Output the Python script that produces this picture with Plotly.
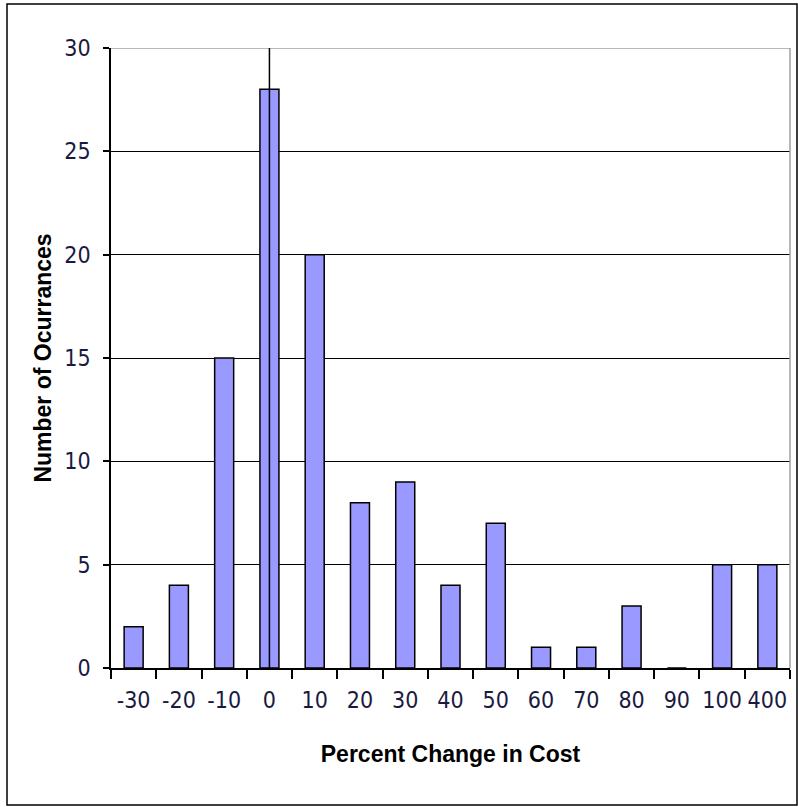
import plotly.graph_objects as go

categories = ["-30", "-20", "-10", "0", "10", "20", "30", "40", "50", "60", "70", "80", "90", "100", "400"]
counts = [2, 4, 15, 28, 20, 8, 9, 4, 7, 1, 1, 3, 0, 5, 5]
y_ticks = [0, 5, 10, 15, 20, 25, 30]

FONT = "DejaVu Sans Condensed, Liberation Sans Narrow, Arial Narrow, sans-serif"
TFONT = "Liberation Sans, Arial, sans-serif"

fig = go.Figure()
fig.add_trace(go.Bar(
    x=categories, y=counts,
    marker=dict(color="#9999FF", line=dict(color="black", width=1.5)),
    width=0.42,
))

L, R, T, B = 111, 8, 48, 139
W, H = 798, 807
pw, ph = W - L - R, H - T - B

def px_x(p):
    return (p - L) / pw

def px_y(p):
    return (H - B - p) / ph

shapes = [
    dict(type="rect", xref="paper", yref="paper",
         x0=px_x(7), x1=px_x(797), y0=px_y(805), y1=px_y(4),
         line=dict(color="black", width=1.5), layer="below"),
    dict(type="line", xref="paper", yref="y", x0=0, x1=1, y0=30, y1=30,
         line=dict(color="#A0A0A0", width=1.5)),
    dict(type="line", xref="paper", yref="paper", x0=1, x1=1, y0=0, y1=1,
         line=dict(color="#A0A0A0", width=1.5)),
    dict(type="line", xref="x", yref="y", x0=categories.index("0"), x1=categories.index("0"),
         y0=0, y1=30, line=dict(color="black", width=1.5)),
]

fig.update_layout(
    width=W, height=H,
    margin=dict(l=L, r=R, t=T, b=B, autoexpand=False),
    paper_bgcolor="white", plot_bgcolor="white",
    showlegend=False,
    bargap=0.58,
    font=dict(family=FONT, size=20, color="black"),
    shapes=shapes,
    xaxis=dict(
        type="category",
        automargin=False,
        tickangle=0,
        showline=True, linecolor="black", linewidth=1.5,
        ticks="outside", tickson="boundaries", ticklen=9, tickwidth=1.5, tickcolor="black",
        showgrid=False,
        ticklabelstandoff=11,
        tickfont=dict(family=FONT, size=23, color="#1a1a40"),
        title=dict(text="<b>Percent Change in Cost</b>", standoff=34,
                   font=dict(family=TFONT, size=23, color="black")),
    ),
    yaxis=dict(
        range=[0, 30], tickvals=y_ticks,
        automargin=False,
        showline=True, linecolor="black", linewidth=1.5,
        ticks="outside", ticklen=6, tickwidth=1.5, tickcolor="black",
        showgrid=True, gridcolor="black", gridwidth=1.2,
        zeroline=False,
        ticklabelstandoff=8,
        tickfont=dict(family=FONT, size=23, color="#1a1a40"),
        title=dict(text="<b>Number of Ocurrances</b>", standoff=6,
                   font=dict(family=TFONT, size=23, color="black")),
    ),
)

fig.write_html("out.html", config={"displayModeBar": False},
               post_script="document.body.style.margin='0';document.body.style.overflow='hidden';")
